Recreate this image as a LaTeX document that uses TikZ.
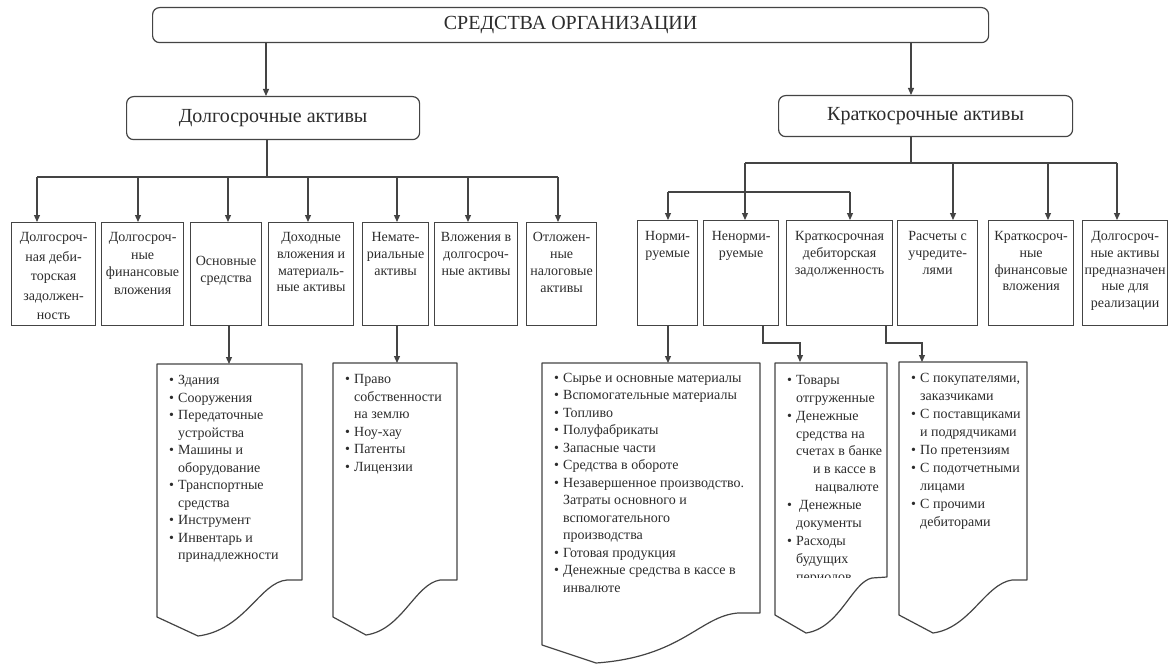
\documentclass[tikz,border=0pt]{standalone}
\usepackage{fontspec}
\setmainfont{Liberation Serif}
\usetikzlibrary{arrows.meta}
\definecolor{linec}{HTML}{444444}
\definecolor{txtc}{HTML}{2C2C2C}
\newcommand{\bl}{\makebox[9pt][l]{\textbullet}}
\newcommand{\ct}{\hspace*{9pt}}
\begin{document}
\begin{tikzpicture}[x=1pt,y=-1pt,
  ln/.style={draw=linec, line width=1.2pt},
  arr/.style={ln, -{Triangle[length=7pt,width=6pt]}},
  rbox/.style={draw=linec, line width=1.2pt, rounded corners=7pt, inner sep=0pt, anchor=north west, text=txtc, font=\fontsize{20}{24}\selectfont},
  box/.style={draw=linec, line width=1.2pt, inner sep=0pt, anchor=north west},
  btxt/.style={text=txtc, font=\fontsize{14}{16.7}\selectfont, align=center, inner sep=0pt, anchor=north},
  dtxt/.style={text=txtc, font=\fontsize{14}{17.5}\selectfont, align=left, inner sep=0pt, anchor=north west},
  doc/.style={draw=linec, line width=1.2pt, line join=round}]
\useasboundingbox[fill=white] (0,0) rectangle (1170,666);

% ---- top level ----
\node[rbox, minimum width=836pt, minimum height=35pt] (top) at (152,7) {СРЕДСТВА ОРГАНИЗАЦИИ};
\node[rbox, minimum width=293pt, minimum height=43pt] (la) at (126,96) {Долгосрочные активы};
\node[rbox, minimum width=294pt, minimum height=41pt] (ka) at (778,95) {Краткосрочные активы};

\coordinate (tl) at (266,60);
\coordinate (tr) at (911,60);
\draw[arr] (tl |- top.south) -- (tl |- la.north);
\draw[arr] (tr |- top.south) -- (tr |- ka.north);

% ---- long-term assets ----
\node[box, minimum width=84pt, minimum height=103pt] (b1) at (11,222) {};
\node[box, minimum width=82pt, minimum height=103pt] (b2) at (101,222) {};
\node[box, minimum width=71pt, minimum height=103pt] (b3) at (190,222) {};
\node[box, minimum width=85pt, minimum height=103pt] (b4) at (268,222) {};
\node[box, minimum width=66pt, minimum height=103pt] (b5) at (362,222) {};
\node[box, minimum width=83pt, minimum height=103pt] (b6) at (434,222) {};
\node[box, minimum width=70pt, minimum height=103pt] (b7) at (526,222) {};

\node[btxt, font=\fontsize{14}{19.5}\selectfont] (b1t) at ([yshift=-10.5pt]b1.north) {Долгосроч-\\ная деби-\\торская\\задолжен-\\ность};
\node[btxt, font=\fontsize{14}{17.5}\selectfont] (b2t) at ([yshift=-10.5pt]b2.north) {Долгосроч-\\ные\\финансовые\\вложения};
\node[btxt] (b3t) at ([yshift=-34.5pt]b3.north) {Основные\\средства};
\node[btxt] (b4t) at ([yshift=-10.5pt]b4.north) {Доходные\\вложения и\\материаль-\\ные активы};
\node[btxt] (b5t) at ([yshift=-10.5pt]b5.north) {Немате-\\риальные\\активы};
\node[btxt] (b6t) at ([yshift=-10.5pt]b6.north) {Вложения в\\долгосроч-\\ные активы};
\node[btxt] (b7t) at ([yshift=-10.5pt]b7.north) {Отложен-\\ные\\налоговые\\активы};

\coordinate (busL) at (267,177);
\coordinate (a1) at (37,177);
\coordinate (a2) at (138,177);
\coordinate (a3) at (228,177);
\coordinate (a4) at (308,177);
\coordinate (a5) at (397,177);
\coordinate (a6) at (468,177);
\coordinate (a7) at (558,177);
\draw[ln] (busL |- la.south) -- (busL);
\draw[ln] (a1) -- (a7);
\foreach \i in {1,...,7} {\draw[arr] (a\i) -- (a\i |- b\i.north);}

% ---- short-term assets ----
\node[box, minimum width=60pt, minimum height=105pt] (n1) at (637,220) {};
\node[box, minimum width=75pt, minimum height=105pt] (n2) at (703,220) {};
\node[box, minimum width=106pt, minimum height=105pt] (n3) at (786,220) {};
\node[box, minimum width=80pt, minimum height=105pt] (n4) at (897,220) {};
\node[box, minimum width=85pt, minimum height=105pt] (n5) at (988,220) {};
\node[box, minimum width=85pt, minimum height=105pt] (n6) at (1082,220) {};

\node[btxt] (n1t) at ([yshift=-11.5pt]n1.north) {Норми-\\руемые};
\node[btxt] (n2t) at ([yshift=-11.5pt]n2.north) {Ненорми-\\руемые};
\node[btxt] (n3t) at ([yshift=-11.5pt]n3.north) {Краткосрочная\\дебиторская\\задолженность};
\node[btxt] (n4t) at ([yshift=-11.5pt]n4.north) {Расчеты с\\учредите-\\лями};
\node[btxt] (n5t) at ([yshift=-11.5pt]n5.north) {Краткосроч-\\ные\\финансовые\\вложения};
\node[btxt] (n6t) at ([yshift=-11.5pt]n6.north) {Долгосроч-\\ные активы\\предназначен\\ные для\\реализации};

\coordinate (busR) at (911,163);
\coordinate (r2) at (745,163);
\coordinate (r4) at (953,163);
\coordinate (r5) at (1048,163);
\coordinate (r6) at (1117,163);
\coordinate (r1) at (668,192);
\coordinate (r3) at (850,192);
\draw[ln] (busR |- ka.south) -- (busR);
\draw[ln] (r2) -- (r6);
\draw[ln] (r1) -- (r3);
\draw[arr] (r2) -- (r2 |- n2.north);
\foreach \i in {1,3} {\draw[arr] (r\i) -- (r\i |- n\i.north);}
\foreach \i in {4,5,6} {\draw[arr] (r\i) -- (r\i |- n\i.north);}

% ---- detail sheets ----
\draw[doc] (157,364) -- (302,364) -- (302,580) -- (287,580)
  .. controls (260,582) and (245,630) .. (198,636) -- (157,617) -- cycle;
\draw[doc] (333,363) -- (457,363) -- (457,580) -- (440,580)
  .. controls (415,584) and (402,630) .. (366,635) -- (333,617) -- cycle;
\draw[doc] (542,363) -- (760,363) -- (760,613) -- (738,613)
  .. controls (700,616) and (682,657) .. (596,663) -- (542,645) -- cycle;
\draw[doc] (775,363) -- (887,363) -- (887,577) -- (872,578)
  .. controls (852,582) and (840,628) .. (806,633) -- (775,615) -- cycle;
\draw[doc] (899,362) -- (1027,362) -- (1027,580) -- (1012,580)
  .. controls (985,584) and (970,628) .. (933,633) -- (899,615) -- cycle;

\coordinate (osd) at (229,364);
\coordinate (nmd) at (397,363);
\coordinate (nrd) at (668,363);
\coordinate (nnk) at (763,343);
\coordinate (nnd) at (800,362);
\coordinate (dbk) at (886,343);
\coordinate (dbd) at (922,362);
\draw[arr] (osd |- b3.south) -- (osd);
\draw[arr] (nmd |- b5.south) -- (nmd);
\draw[arr] (nrd |- n1.south) -- (nrd);
\draw[arr] (nnk |- n2.south) -- (nnk) -- (nnk -| nnd) -- (nnd);
\draw[arr] (dbk |- n3.south) -- (dbk) -- (dbk -| dbd) -- (dbd);

\node[dtxt] (ost) at (169,375.5) {\bl Здания\\ \bl Сооружения\\ \bl Передаточные\\ \ct устройства\\
  \bl Машины и\\ \ct оборудование\\ \bl Транспортные\\ \ct средства\\ \bl Инструмент\\
  \bl Инвентарь и\\ \ct принадлежности};
\node[dtxt] (nmt) at (345,374.5) {\bl Право\\ \ct собственности\\ \ct на землю\\ \bl Ноу-хау\\
  \bl Патенты\\ \bl Лицензии};
\node[dtxt] (nrt) at (554,373) {\bl Сырье и основные материалы\\ \bl Вспомогательные материалы\\
  \bl Топливо\\ \bl Полуфабрикаты\\ \bl Запасные части\\ \bl Средства в обороте\\
  \bl Незавершенное производство.\\ \ct Затраты основного и\\ \ct вспомогательного\\
  \ct производства\\ \bl Готовая продукция\\ \bl Денежные средства в кассе в\\ \ct инвалюте};
\begin{scope}
\clip (770,360) rectangle (900,577.5);
\node[dtxt, font=\fontsize{14}{17.9}\selectfont] (nnt) at (787,375) {\bl Товары\\ \ct отгруженные\\ \bl Денежные\\ \ct средства на\\
  \ct счетах в банке\\ \hspace*{26pt}и в кассе в\\ \hspace*{28pt}нацвалюте\\
  \bl\hspace*{3pt}Денежные\\ \ct документы\\ \bl Расходы\\ \ct будущих\\ \ct периодов};
\end{scope}
\node[dtxt, font=\fontsize{14}{18}\selectfont] (dbt) at (911,373.5) {\bl С покупателями,\\ \ct заказчиками\\ \bl С поставщиками\\
  \ct и подрядчиками\\ \bl По претензиям\\ \bl С подотчетными\\ \ct лицами\\
  \bl С прочими\\ \ct дебиторами};
\end{tikzpicture}
\end{document}
